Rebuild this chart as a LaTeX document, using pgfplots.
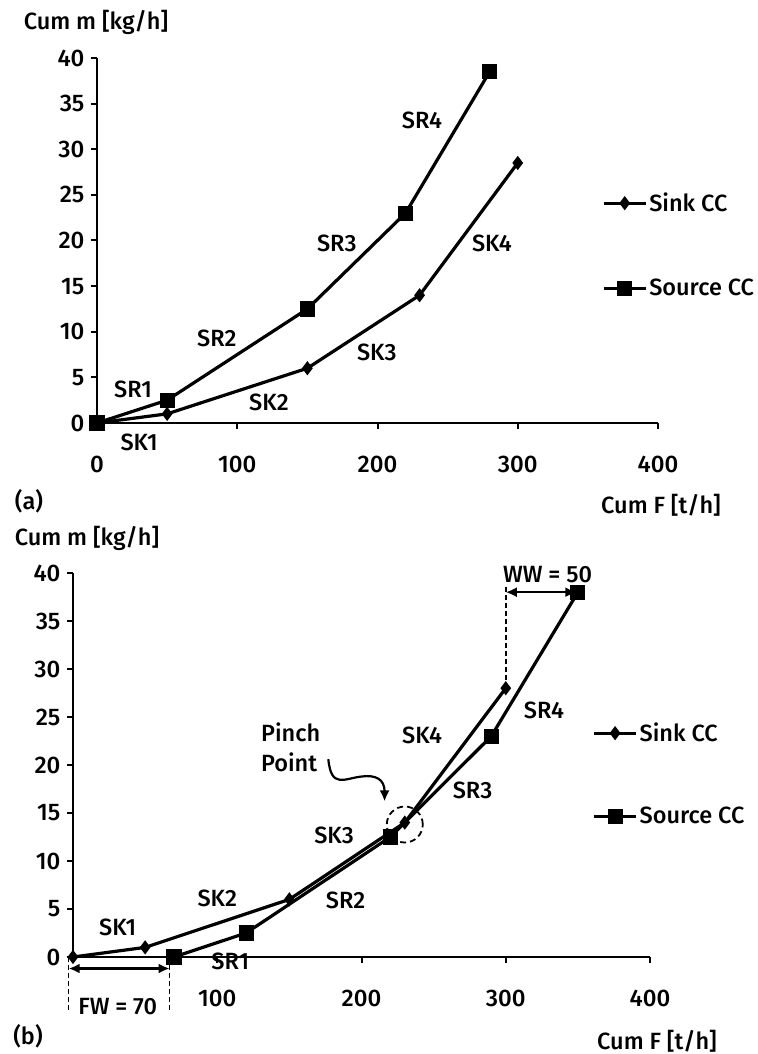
\documentclass[border=0pt]{standalone}
\usepackage{fontspec}
\setmainfont{Fira Sans Medium}
\usepackage{pgfplots}
\pgfplotsset{compat=1.18}
\usetikzlibrary{arrows.meta}

\newcommand\lbl{\fontsize{23.5bp}{30bp}\selectfont}
\newcommand\tkl{\fontsize{24bp}{26bp}\selectfont}

\tikzset{dsh/.style={line width=1.6bp, dash pattern=on 5bp off 3bp}}

\pgfplotsset{
  legend image code/.code={\draw[mark repeat=2,mark phase=2,#1] plot coordinates {(0bp,0bp)(21bp,0bp)(42bp,0bp)};},
  cc/.style={
    scale only axis,
    axis x line=bottom, axis y line=left,
    axis line style={-, line width=2.8bp},
    xmin=0,xmax=400,ymin=0,ymax=40,
    ytick={0,5,...,40},
    tick align=outside, major tick length=6bp,
    every tick/.style={black, line width=2bp},
    tick label style={font=\tkl},
    xticklabel style={yshift=-24bp},
    yticklabel style={xshift=-3bp},
    /pgf/number format/assume math mode=true,
    clip=false,
    legend style={draw=none, fill=none, font=\lbl, anchor=north west, row sep=62bp, inner sep=0pt, nodes={inner sep=2bp}},
    legend cell align=left,
  },
  sink/.style={black, line width=3.2bp, mark=diamond*, mark size=4.5bp, mark options={solid}},
  source/.style={black, line width=3.2bp, mark=square*, mark size=6bp, mark options={solid}},
}

\begin{document}
\begin{tikzpicture}
\path[use as bounding box] (0,0) rectangle (758bp,1054bp);

% ---------------- (a) ----------------
\begin{axis}[cc, at={(97bp,631bp)}, anchor=south west, width=561bp, height=365bp,
  xtick={0,100,200,300,400},
  legend style={at={(0.9,0.636)}}]
\addplot[sink] coordinates {(0,0)(50,1)(150,6)(230,14)(300,28.5)};
\addlegendentry{Sink CC}
\addplot[source] coordinates {(0,0)(50,2.5)(150,12.5)(220,23)(280,38.5)};
\addlegendentry{Source CC}
\node[font=\lbl] at (axis cs:25.7,3.7) {SR1};
\node[font=\lbl] at (axis cs:30,-2.1) {SK1};
\node[font=\lbl] at (axis cs:85.5,9.3) {SR2};
\node[font=\lbl] at (axis cs:122.6,2.3) {SK2};
\node[font=\lbl] at (axis cs:171,19.7) {SR3};
\node[font=\lbl] at (axis cs:199.5,7.7) {SK3};
\node[font=\lbl] at (axis cs:231.7,33.2) {SR4};
\node[font=\lbl] at (axis cs:281.6,19.7) {SK4};
\end{axis}
\node[font=\lbl] at (96bp,1032bp) {Cum m [kg/h]};
\node[font=\lbl] at (661bp,549bp) {Cum F [t/h]};
\node[font=\lbl] at (29bp,553bp) {(a)};

% ---------------- (b) ----------------
\begin{axis}[cc, at={(73bp,97bp)}, anchor=south west, width=577bp, height=384bp,
  xtick={100,200,300,400},
  legend style={at={(0.9,0.615)}, row sep=60bp}]
\addplot[sink] coordinates {(0,0)(50,1)(150,6)(230,14)(300,28)};
\addlegendentry{Sink CC}
\addplot[source] coordinates {(70,0)(120,2.5)(220,12.5)(290,23)(350,38)};
\addlegendentry{Source CC}
\node[font=\lbl] at (axis cs:31,3.1) {SK1};
\node[font=\lbl] at (axis cs:109,-0.5) {SR1};
\node[font=\lbl] at (axis cs:100,6.1) {SK2};
\node[font=\lbl] at (axis cs:189,5.9) {SR2};
\node[font=\lbl] at (axis cs:181,12.7) {SK3};
\node[font=\lbl] at (axis cs:277,17.4) {SR3};
\node[font=\lbl] at (axis cs:242,23.1) {SK4};
\node[font=\lbl] at (axis cs:326.5,25.7) {SR4};
\node[font=\lbl] at (axis cs:329,39.8) {WW = 50};
\node[font=\lbl, anchor=west, align=left] at (axis cs:128,21.8) {Pinch\\Point};
% FW
\draw[dsh] (axis cs:-3,0) -- (axis cs:-3,-5.8);
\draw[dsh] (axis cs:67,0) -- (axis cs:67,-5.8);
\draw[{Latex[length=11bp,width=10bp]}-{Latex[length=11bp,width=10bp]}, line width=2.2bp] (axis cs:-3,-1.2) -- (axis cs:67,-1.2);
\node[font=\lbl] at (axis cs:31,-5.2) {FW = 70};
% WW
\draw[dsh] (axis cs:300,28) -- (axis cs:300,38.8);
\draw[{Latex[length=11bp,width=10bp]}-{Latex[length=11bp,width=10bp]}, line width=2.2bp] (axis cs:300,38) -- (axis cs:349,38);
% pinch
\draw[line width=1.8bp, dash pattern=on 6bp off 4bp] (axis cs:230,13.8) circle[radius=18bp];
\draw[-{Latex[length=11bp,width=10bp]}, line width=2.2bp] (axis cs:177,20.6) .. controls (axis cs:179,17.5) and (axis cs:188,18.6) .. (axis cs:200,18.8) .. controls (axis cs:210,19) and (axis cs:216,18.5) .. (axis cs:216,16.2);
\end{axis}
\node[font=\lbl] at (87bp,516bp) {Cum m [kg/h]};
\node[font=\lbl] at (657bp,13bp) {Cum F [t/h]};
\node[font=\lbl] at (28bp,18bp) {(b)};
\end{tikzpicture}
\end{document}
